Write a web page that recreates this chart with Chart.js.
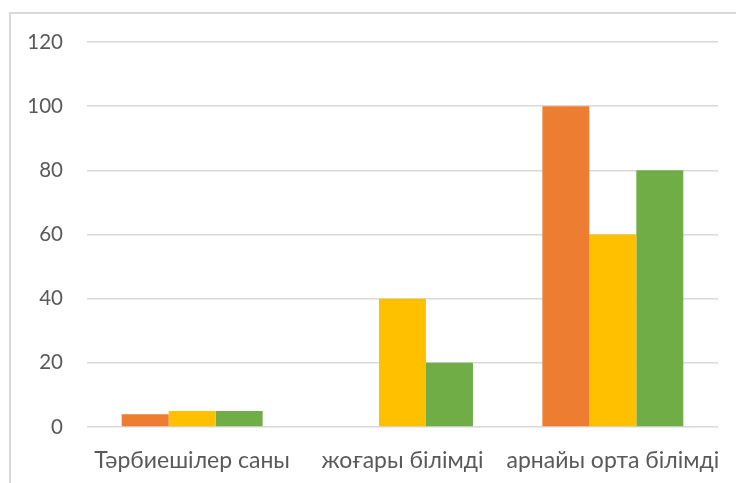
<!DOCTYPE html>
<html>
<head>
<meta charset="utf-8">
<script src="https://cdn.jsdelivr.net/npm/chart.js@4"></script>
<style>
  html, body { margin: 0; padding: 0; background: #fff; overflow: hidden; }
  #wrap { position: relative; width: 736px; height: 483px; }
  #frame { position: absolute; left: 9px; top: 12px; width: 800px; height: 600px; border: 2px solid #d9d9d9; box-sizing: border-box; }
  canvas { position: absolute; left: 0; top: 0; }
</style>
</head>
<body>
<div id="wrap">
  <div id="frame"></div>
  <canvas id="chart" width="736" height="483"></canvas>
</div>
<script>
// categories and series
const categories = ['Тәрбиешілер саны', 'жоғары білімді', 'арнайы орта білімді'];
const orangeValues = [4, 0, 100];
const yellowValues = [5, 40, 60];
const greenValues = [5, 20, 80];
const yTicks = [0, 20, 40, 60, 80, 100, 120];

const xFont = { family: 'Lato, "Open Sans", sans-serif', size: 23 };
const yFont = { family: 'Lato, "Open Sans", sans-serif', size: 20.5 };

const ctx = document.getElementById('chart').getContext('2d');
new Chart(ctx, {
    type: 'bar',
    data: {
        labels: categories,
        datasets: [
            { label: 'Series 1', data: orangeValues, backgroundColor: '#ED7D31' },
            { label: 'Series 2', data: yellowValues, backgroundColor: '#FFC000' },
            { label: 'Series 3', data: greenValues, backgroundColor: '#70AD47' }
        ]
    },
    options: {
        responsive: false,
        animation: false,
        datasets: {
            bar: { categoryPercentage: 0.67, barPercentage: 1.0 }
        },
        layout: { padding: { top: 42, right: 18, left: 0, bottom: 0 } },
        plugins: {
            legend: { display: false },
            tooltip: { enabled: false }
        },
        scales: {
            x: {
                grid: { display: false, drawTicks: false },
                border: { display: false },
                ticks: { color: '#595959', font: xFont, padding: 20, maxRotation: 0, autoSkip: false },
                afterFit: scale => {
                    scale.height = 56;
                    scale.paddingLeft = 0;
                    scale.paddingRight = 0;
                }
            },
            y: {
                min: 0,
                max: 120,
                afterBuildTicks: scale => { scale.ticks = yTicks.map(v => ({ value: v })); },
                grid: { color: '#d9d9d9', lineWidth: 1.5, drawTicks: false },
                border: { display: false },
                ticks: { color: '#595959', font: yFont, padding: 24 },
                afterFit: scale => {
                    scale.width = 87;
                    scale.paddingTop = 0;
                    scale.paddingBottom = 0;
                }
            }
        }
    }
});
</script>
</body>
</html>
